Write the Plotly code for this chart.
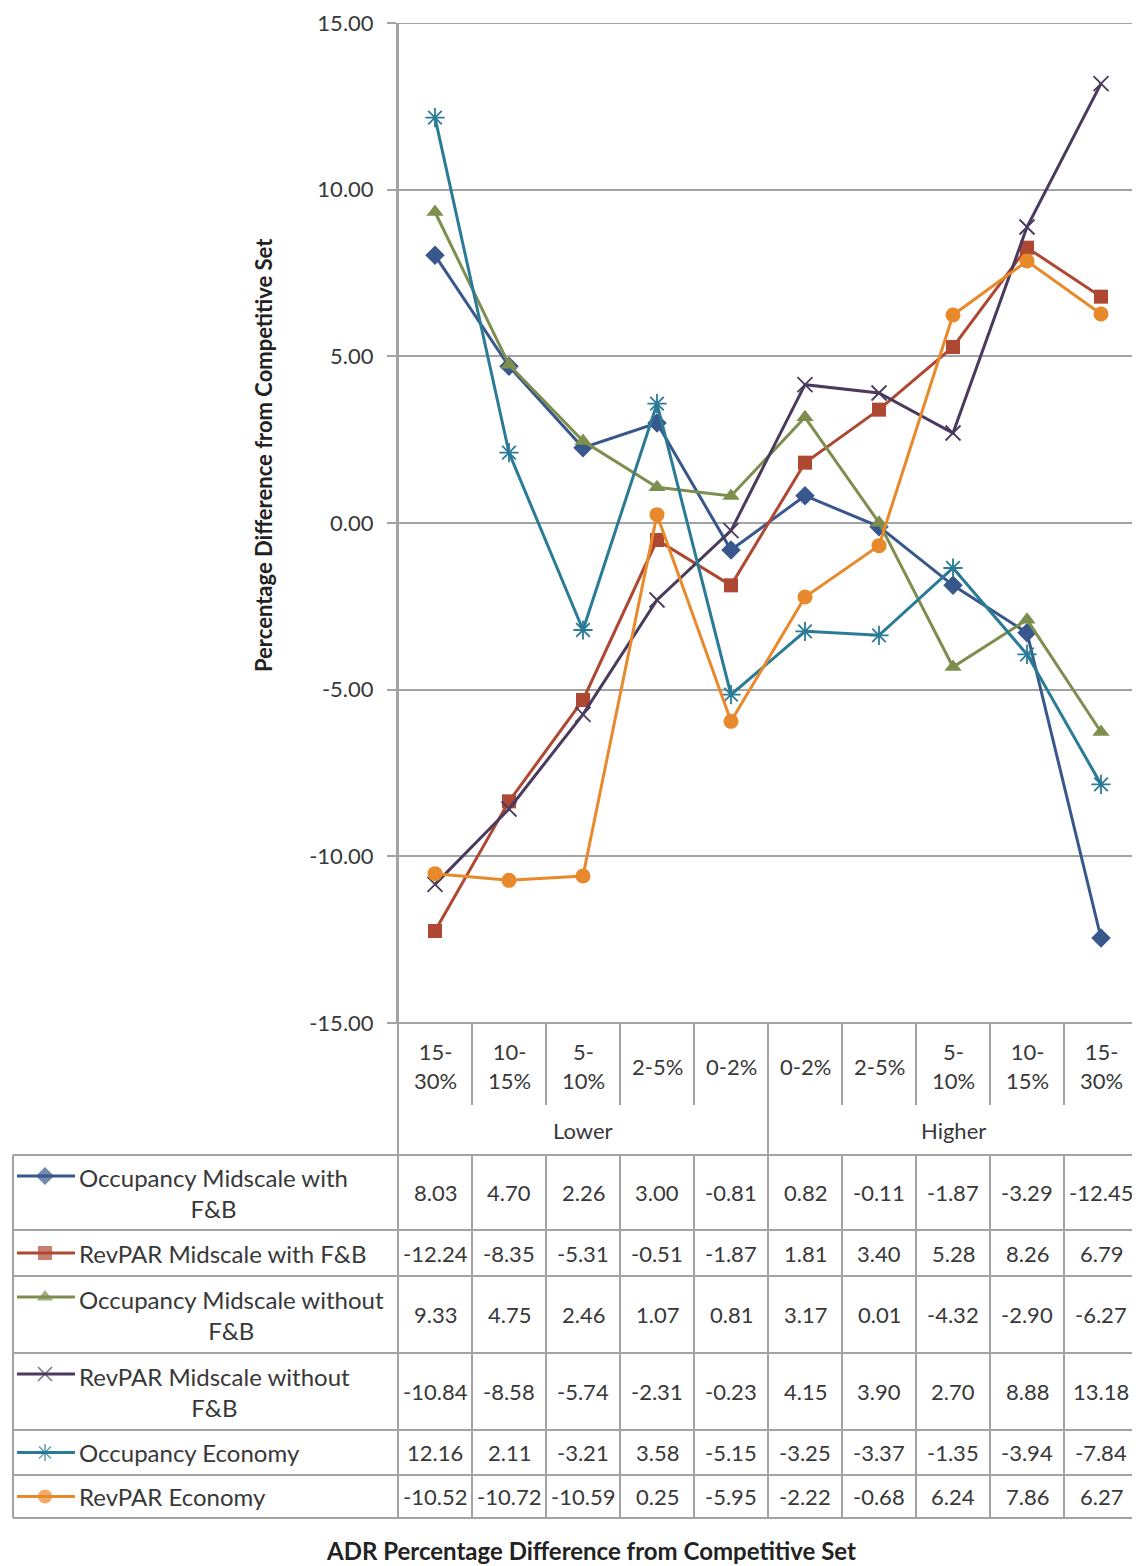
import plotly.graph_objects as go

categories = ["15-30%", "10-15%", "5-10%", "2-5%", "0-2%",
              "0-2%", "2-5%", "5-10%", "10-15%", "15-30%"]
groups = ["Lower", "Higher"]

occ_mid_fb = [8.03, 4.70, 2.26, 3.00, -0.81, 0.82, -0.11, -1.87, -3.29, -12.45]
rev_mid_fb = [-12.24, -8.35, -5.31, -0.51, -1.87, 1.81, 3.40, 5.28, 8.26, 6.79]
occ_mid_nofb = [9.33, 4.75, 2.46, 1.07, 0.81, 3.17, 0.01, -4.32, -2.90, -6.27]
rev_mid_nofb = [-10.84, -8.58, -5.74, -2.31, -0.23, 4.15, 3.90, 2.70, 8.88, 13.18]
occ_economy = [12.16, 2.11, -3.21, 3.58, -5.15, -3.25, -3.37, -1.35, -3.94, -7.84]
rev_economy = [-10.52, -10.72, -10.59, 0.25, -5.95, -2.22, -0.68, 6.24, 7.86, 6.27]

series_names = ["Occupancy Midscale with F&B", "RevPAR Midscale with F&B",
                "Occupancy Midscale without F&B", "RevPAR Midscale without F&B",
                "Occupancy Economy", "RevPAR Economy"]
series_values = [occ_mid_fb, rev_mid_fb, occ_mid_nofb, rev_mid_nofb, occ_economy, rev_economy]

y_ticks = [15, 10, 5, 0, -5, -10, -15]
y_tick_labels = ["15.00", "10.00", "5.00", "0.00", "-5.00", "-10.00", "-15.00"]

# ---- styling ----
colors = ["#38578C", "#AF4833", "#7E8E4E", "#4A3A5E", "#2A7B96", "#E8892C"]
symbols = ["diamond", "square", "triangle-up", "x-thin-open", "asterisk-open", "circle"]
sizes = [15, 14, 15, 15, 16, 15]
FONT = "Lato"
TXT = "#383838"
GRID = "#A3A3A3"

W, H = 1140, 1566
OFF = 8  # page body margin; layout below is given in screen pixels


def sx(v):
    return v - OFF


PL, PR, PT, PB = 398, 1138, 23, 1023          # plot area (screen px)
rows = [1155, 1230, 1276, 1353, 1430, 1475, 1518]  # table row borders

fig = go.Figure()

x = list(range(len(categories)))
for name, vals, c, s, sz in zip(series_names, series_values, colors, symbols, sizes):
    open_marker = s.endswith("open")
    fig.add_trace(go.Scatter(
        x=x, y=vals, name=name, mode="lines+markers",
        line=dict(color=c, width=3),
        marker=dict(symbol=s, size=sz, color=c,
                    line=dict(color=c, width=1.8 if open_marker else 0)),
        showlegend=False, xaxis="x", yaxis="y"))

# legend keys inside the table (pixel overlay axis)
for i, (c, s) in enumerate(zip(colors, symbols)):
    top, bot = rows[i], rows[i + 1]
    two_line = (bot - top) > 60
    ky = top + 21 if two_line else (top + bot) / 2
    fig.add_trace(go.Scatter(
        x=[sx(17), sx(45), sx(75)], y=[sx(ky)] * 3, mode="lines+markers",
        line=dict(color=c, width=3),
        marker=dict(symbol=s, size=[0, 14, 0], color=c,
                    line=dict(color=c, width=1.6 if s.endswith("open") else 0)),
        showlegend=False, hoverinfo="skip", xaxis="x2", yaxis="y2"))

annotations = []
shapes = []


def hline(y, x0, x1):
    shapes.append(dict(type="line", xref="x2", yref="y2", x0=sx(x0), x1=sx(x1),
                       y0=sx(y), y1=sx(y), line=dict(color=GRID, width=2)))


def vline(xp, y0, y1):
    shapes.append(dict(type="line", xref="x2", yref="y2", x0=sx(xp), x1=sx(xp),
                       y0=sx(y0), y1=sx(y1), line=dict(color=GRID, width=2)))


# top gridline of the plot area (at the range edge)
shapes.append(dict(type="line", xref="paper", yref="y", x0=sx(PL - 9) / W, x1=sx(PR) / W,
                   y0=y_ticks[0], y1=y_ticks[0], line=dict(color=GRID, width=2),
                   layer="below"))

# table grid
hline(PB, PL - 9, PR)
for r in rows:
    hline(r, 13, PR)
vline(13, rows[0], rows[-1])
vline(PL, PT, rows[-1])
vline(PR, PT, rows[-1])
col_w = (PR - PL) / len(categories)
for k in range(1, len(categories)):
    xp = PL + k * col_w
    if k == 5:
        vline(xp, PB, rows[-1])
    else:
        vline(xp, PB, 1105)
        vline(xp, rows[0], rows[-1])

# category labels
for i, cat in enumerate(categories):
    lab = cat.replace("-", "-<br>", 1) if len(cat) > 4 else cat
    annotations.append(dict(x=i, y=sx(1066), xref="x", yref="y2", text=lab, showarrow=False,
                            font=dict(family=FONT, size=22, color=TXT), align="center",
                            yanchor="middle"))
for g, gx in zip(groups, [2, 7]):
    annotations.append(dict(x=gx, y=sx(1130), xref="x", yref="y2", text=g, showarrow=False,
                            font=dict(family=FONT, size=22, color=TXT), yanchor="middle"))

# table rows: legend text + values
for i, (name, vals) in enumerate(zip(series_names, series_values)):
    top, bot = rows[i], rows[i + 1]
    yc = (top + bot) / 2
    if (bot - top) > 60:
        label = name.replace(" F&B", "<br>F&B")
    else:
        label = name
    annotations.append(dict(x=sx(77), y=sx(yc), xref="x2", yref="y2", text=label,
                            showarrow=False, xanchor="left", yanchor="middle",
                            align="center", font=dict(family=FONT, size=24, color=TXT)))
    for j, v in enumerate(vals):
        annotations.append(dict(x=j, y=sx(yc), xref="x", yref="y2", text=f"{v:.2f}",
                                showarrow=False, yanchor="middle",
                                font=dict(family=FONT, size=22, color=TXT)))

# axis titles
annotations.append(dict(x=sx(263), y=sx(455), xref="x2", yref="y2",
                        text="<b>Percentage Difference from Competitive Set</b>",
                        textangle=-90, showarrow=False,
                        font=dict(family=FONT, size=22, color="#222")))
annotations.append(dict(x=sx(591), y=sx(1550), xref="x2", yref="y2",
                        text="<b>ADR Percentage Difference from Competitive Set</b>",
                        showarrow=False, font=dict(family=FONT, size=24, color="#222")))

fig.update_layout(
    width=W, height=H, margin=dict(l=0, r=0, t=0, b=0, autoexpand=False),
    paper_bgcolor="white", plot_bgcolor="rgba(0,0,0,0)",
    font=dict(family=FONT, color=TXT),
    xaxis=dict(domain=[sx(PL) / W, sx(PR) / W], range=[-0.5, len(categories) - 0.5],
               showticklabels=False, showgrid=False, zeroline=False, showline=False,
               automargin=False, fixedrange=True),
    yaxis=dict(domain=[1 - sx(PB) / H, 1 - sx(PT) / H], range=[-15, 15],
               tickvals=y_ticks, ticktext=y_tick_labels,
               tickfont=dict(family=FONT, size=22, color=TXT),
               showgrid=True, gridcolor=GRID, gridwidth=2, zeroline=False,
               showline=True, linecolor=GRID, linewidth=2, mirror=True,
               ticks="outside", ticklen=9, tickcolor=GRID, tickwidth=2,
               ticklabelstandoff=9, ticklabeloverflow="allow", automargin=False),
    xaxis2=dict(domain=[0, 1], range=[0, W], visible=False, anchor="y2",
                automargin=False, fixedrange=True),
    yaxis2=dict(domain=[0, 1], range=[H, 0], visible=False, anchor="x2",
                automargin=False, fixedrange=True),
    shapes=shapes, annotations=annotations,
)

fig.write_html("out.html")
